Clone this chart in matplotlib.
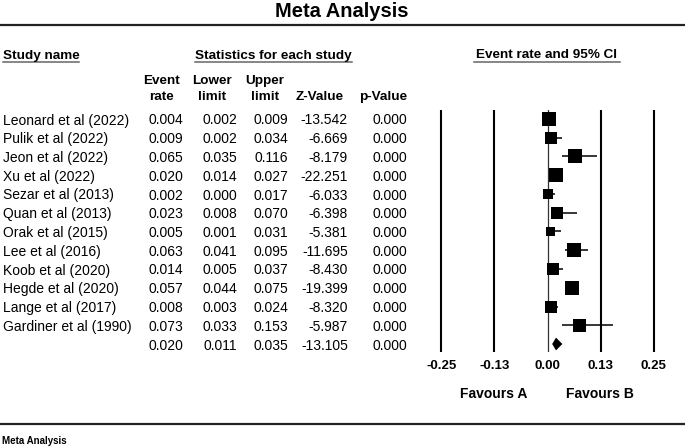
import matplotlib
matplotlib.use('Agg')
import matplotlib.pyplot as plt
from matplotlib.lines import Line2D

plt.rcParams['font.family'] = ['Liberation Sans', 'DejaVu Sans']

# data
studies = ['Leonard et al (2022)', 'Pulik et al (2022)', 'Jeon et al (2022)', 'Xu et al (2022)',
           'Sezar et al (2013)', 'Quan et al (2013)', 'Orak et al (2015)', 'Lee et al (2016)',
           'Koob et al (2020)', 'Hegde et al (2020)', 'Lange et al (2017)', 'Gardiner et al (1990)']
event_rate = [0.004, 0.009, 0.065, 0.020, 0.002, 0.023, 0.005, 0.063, 0.014, 0.057, 0.008, 0.073]
lower = [0.002, 0.002, 0.035, 0.014, 0.000, 0.008, 0.001, 0.041, 0.005, 0.044, 0.003, 0.033]
upper = [0.009, 0.034, 0.116, 0.027, 0.017, 0.070, 0.031, 0.095, 0.037, 0.075, 0.024, 0.153]
z_value = [-13.542, -6.669, -8.179, -22.251, -6.033, -6.398, -5.381, -11.695, -8.430, -19.399, -8.320, -5.987]
p_value = [0.000] * 12
# relative weight -> square size (px)
rel_weight = [13.3, 11.7, 13.7, 14.0, 10.0, 11.7, 9.0, 14.7, 12.3, 14.7, 12.7, 13.0]
# pooled estimate
pooled = (0.020, 0.011, 0.035, -13.105, 0.000)

xticks = [-0.25, -0.125, 0.0, 0.125, 0.25]
xtick_labels = ['-0.25', '-0.13', '0.00', '0.13', '0.25']

W, H = 685, 446
fig = plt.figure(figsize=(W / 100, H / 100), dpi=100)

def fx(x):
    return x / W

def fy(y):
    return 1 - y / H

def hline(x0, x1, y, lw=1.5, color='black'):
    fig.add_artist(Line2D([fx(x0), fx(x1)], [fy(y), fy(y)], lw=lw, color=color))

# title and rules
fig.text(fx(342), fy(17), 'Meta Analysis', ha='center', va='baseline', fontsize=14.5, fontweight='bold')
hline(0, W, 25, lw=1.6, color='#222222')
hline(0, W, 423.5, lw=1.6, color='#222222')
fig.text(fx(2), fy(443.5), 'Meta Analysis', ha='left', va='baseline', fontsize=7, fontweight='bold')

# section headers
fig.text(fx(3), fy(58.5), 'Study name', ha='left', va='baseline', fontsize=9.7, fontweight='bold')
hline(3, 79, 62, lw=1.1, color='#666666')
fig.text(fx(273.5), fy(58.5), 'Statistics for each study', ha='center', va='baseline', fontsize=9.7, fontweight='bold')
hline(195, 352, 62, lw=1.1, color='#666666')
fig.text(fx(547), fy(58.5), 'Event rate and 95% CI', ha='center', va='baseline', fontsize=9.7, fontweight='bold')
hline(474, 620, 62, lw=1.1, color='#666666')

# column headers
col_right = [183, 237, 288, 348, 407]
head_cx = [162, 212, 265, 320, 383]
head1 = ['Event', 'Lower', 'Upper', '', '']
head2 = ['rate', 'limit', 'limit', 'Z-Value', 'p-Value']
for cx, a, b in zip(head_cx, head1, head2):
    fig.text(fx(cx), fy(84), a, ha='center', va='baseline', fontsize=9.7, fontweight='bold')
    fig.text(fx(cx), fy(100), b, ha='center', va='baseline', fontsize=9.7, fontweight='bold')

# table rows
row0, dy = 124.5, 18.75
for i, name in enumerate(studies):
    yb = row0 + dy * i
    fig.text(fx(3), fy(yb), name, ha='left', va='baseline', fontsize=10)
    vals = ['%.3f' % event_rate[i], '%.3f' % lower[i], '%.3f' % upper[i],
            '%.3f' % z_value[i], '%.3f' % p_value[i]]
    for xr, v in zip(col_right, vals):
        fig.text(fx(xr), fy(yb), v, ha='right', va='baseline', fontsize=10)
yb = row0 + dy * len(studies)
for xr, v in zip(col_right, pooled):
    fig.text(fx(xr), fy(yb), '%.3f' % v, ha='right', va='baseline', fontsize=10)

# forest axes: px 420..675 horizontally, 110..352 vertically
ax = fig.add_axes([fx(420), fy(352), (675 - 420) / W, (352 - 110) / H])
ax.set_xlim(-0.3, 0.3)
n = len(studies)
ax.set_ylim((352 - 119) / dy, (110 - 119) / dy)
for t in xticks:
    if t == 0:
        ax.axvline(t, color='#333333', lw=0.9)
    else:
        ax.axvline(t, color='black', lw=1.5)

rows = list(range(n))
ax.hlines(rows, lower, upper, color='black', lw=1.1)
for r, er, s in zip(rows, event_rate, rel_weight):
    ax.plot(er, r, marker='s', markersize=s * 0.72, color='black', mec='black', mew=0)

# pooled diamond
pe, pl, pu = pooled[0], pooled[1], pooled[2]
h = 0.34
ax.fill([pl, pe, pu, pe], [n, n - h, n, n + h], color='black', lw=0)

ax.set_xticks(xticks)
ax.set_xticklabels(xtick_labels, fontsize=9.5, fontweight='bold')
ax.tick_params(axis='x', length=0, pad=6)
ax.set_yticks([])
for sp in ax.spines.values():
    sp.set_visible(False)
ax.patch.set_alpha(0)

fig.text(fx(494), fy(398.5), 'Favours A', ha='center', va='baseline', fontsize=10, fontweight='bold')
fig.text(fx(600), fy(398.5), 'Favours B', ha='center', va='baseline', fontsize=10, fontweight='bold')

fig.savefig('out.png', dpi=100)
